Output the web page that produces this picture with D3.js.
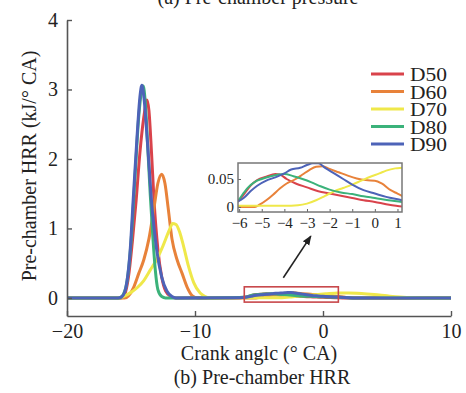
<!DOCTYPE html>
<html>
<head>
<meta charset="utf-8">
<script src="https://cdn.jsdelivr.net/npm/d3@7/dist/d3.min.js"></script>
<style>
  html, body { margin: 0; padding: 0; background: #fff; }
  svg { display: block; }
  text { font-family: "Liberation Serif", "Times New Roman", serif; fill: #222; }
</style>
</head>
<body>
<svg id="chart" width="466" height="393"></svg>
<script>
// Series labels and line colours
const seriesNames = ["D50", "D60", "D70", "D80", "D90"];
const seriesColors = ["#d9434b", "#e8823a", "#efe84a", "#3bb27a", "#4d63b8"];

// Crank angle (deg CA) and pre-chamber heat release rate (kJ/deg CA) per case
const d50Angle = [-20, -15.8, -15.5, -15.2, -14.9, -14.6, -14.3, -14.0, -13.75, -13.6, -13.4, -13.2, -12.9, -12.6, -12.3, -11.9, -11.5, -7, -6.05, -5.8, -5.5, -5.2, -4.8, -4.4, -4.2, -3.9, -3.5, -3.0, -2.5, -2.0, -1.5, -1.0, -0.5, 0, 0.5, 1.2, 2, 10];
const d50HRR   = [0, 0, 0.05, 0.3, 0.8, 1.4, 2.1, 2.6, 2.85, 2.7, 2.1, 1.4, 0.7, 0.3, 0.1, 0.02, 0, 0.002, 0.010, 0.022, 0.038, 0.048, 0.054, 0.059, 0.058, 0.050, 0.042, 0.035, 0.028, 0.024, 0.020, 0.016, 0.012, 0.009, 0.005, 0.001, 0, 0];

const d60Angle = [-20, -15.5, -15.2, -14.8, -14.4, -14.0, -13.6, -13.2, -12.9, -12.6, -12.35, -12.1, -11.8, -11.4, -11.0, -10.6, -10.2, -9.8, -6.05, -5.3, -5.1, -4.8, -4.5, -4.2, -3.9, -3.5, -3.2, -2.9, -2.6, -2.3, -2.0, -1.6, -1.2, -0.8, -0.4, 0, 0.3, 0.7, 1.0, 1.2, 1.8, 2.5, 10];
const d60HRR   = [0, 0, 0.03, 0.15, 0.35, 0.55, 0.85, 1.3, 1.65, 1.78, 1.65, 1.3, 0.85, 0.55, 0.35, 0.15, 0.03, 0, 0, 0, 0.004, 0.012, 0.022, 0.033, 0.042, 0.050, 0.058, 0.066, 0.072, 0.073, 0.068, 0.062, 0.056, 0.051, 0.048, 0.047, 0.042, 0.030, 0.024, 0.020, 0.008, 0, 0];

const d70Angle = [-20, -16, -15.6, -15.0, -14.5, -14.0, -13.5, -13.0, -12.5, -12.0, -11.75, -11.5, -11.2, -10.9, -10.5, -10.1, -9.6, -9.2, -8.8, -6.05, -5, -4, -3.4, -3.0, -2.6, -2.2, -1.8, -1.4, -1.0, -0.6, -0.2, 0.2, 0.5, 0.9, 1.2, 2, 3, 4, 5, 6, 7, 8, 10];
const d70HRR   = [0, 0, 0.02, 0.08, 0.15, 0.25, 0.4, 0.55, 0.75, 0.98, 1.07, 1.06, 0.95, 0.75, 0.45, 0.22, 0.07, 0.02, 0, 0.002, 0.002, 0.002, 0.003, 0.006, 0.012, 0.020, 0.028, 0.034, 0.040, 0.047, 0.054, 0.060, 0.065, 0.069, 0.070, 0.072, 0.065, 0.050, 0.030, 0.012, 0.002, 0, 0];

const d80Angle = [-20, -15.9, -15.6, -15.3, -15.0, -14.7, -14.4, -14.15, -14.05, -13.9, -13.7, -13.5, -13.3, -13.1, -12.9, -12.6, -12.3, -7, -6.05, -5.8, -5.6, -5.3, -5.0, -4.6, -4.0, -3.6, -3.2, -2.8, -2.4, -2.0, -1.5, -1.0, -0.5, 0, 0.6, 1.2, 2.2, 10];
const d80HRR   = [0, 0, 0.05, 0.25, 0.8, 1.7, 2.6, 3.0, 3.05, 2.85, 2.2, 1.5, 0.9, 0.4, 0.12, 0.02, 0, 0.002, 0.012, 0.025, 0.035, 0.045, 0.050, 0.055, 0.059, 0.055, 0.050, 0.044, 0.037, 0.031, 0.026, 0.023, 0.019, 0.016, 0.012, 0.009, 0, 0];

const d90Angle = [-20, -16, -15.7, -15.4, -15.1, -14.8, -14.5, -14.3, -14.15, -14.0, -13.7, -13.4, -13.0, -12.6, -12.2, -11.8, -11.5, -7, -6.05, -5.8, -5.5, -5.2, -4.8, -4.4, -4.0, -3.7, -3.3, -3.0, -2.75, -2.5, -2.2, -1.8, -1.4, -1.0, -0.5, 0, 0.5, 1.2, 2.3, 10];
const d90HRR   = [0, 0, 0.02, 0.15, 0.6, 1.5, 2.4, 2.9, 3.06, 2.9, 2.2, 1.4, 0.7, 0.3, 0.1, 0.02, 0, 0.002, 0.010, 0.016, 0.028, 0.038, 0.047, 0.053, 0.060, 0.067, 0.070, 0.075, 0.078, 0.078, 0.070, 0.060, 0.050, 0.040, 0.030, 0.024, 0.018, 0.012, 0, 0];

const angleSets = [d50Angle, d60Angle, d70Angle, d80Angle, d90Angle];
const hrrSets = [d50HRR, d60HRR, d70HRR, d80HRR, d90HRR];

// Axis ticks
const mainXTicks = [-20, -10, 0, 10];
const mainYTicks = [0, 1, 2, 3, 4];
const insetXTicks = [-6, -5, -4, -3, -2, -1, 0, 1];
const insetYTicks = [0, 0.05];

// Zoomed window on the main plot and the inset's range
const zoomAngle = [-6.15, 1.2];
const zoomHRR = [-0.06, 0.16];

const series = seriesNames.map((name, i) => ({
  name,
  color: seriesColors[i],
  points: angleSets[i].map((a, j) => ({ a, v: hrrSets[i][j] }))
}));

const svg = d3.select("#chart");
const fmtNum = d => (d < 0 ? "\u2212" + Math.abs(d) : String(d));

// ---------- main axes ----------
const x = d3.scaleLinear().domain([-20, 10]).range([67, 451]);
const y = d3.scaleLinear().domain([-0.26, 4]).range([316, 20]);

const line = d3.line().x(d => x(d.a)).y(d => y(d.v)).curve(d3.curveMonotoneX);

const mainG = svg.append("g");
series.forEach(s => {
  mainG.append("path")
    .datum(s.points)
    .attr("fill", "none")
    .attr("stroke", s.color)
    .attr("stroke-width", 3)
    .attr("stroke-linejoin", "round")
    .attr("d", line);
});

const axisColor = "#555";
const xAxis = svg.append("g")
  .attr("transform", `translate(0,${y(-0.26)})`)
  .call(d3.axisBottom(x).tickValues(mainXTicks).tickSizeInner(-5).tickSizeOuter(0).tickPadding(8).tickFormat(fmtNum));
const yAxis = svg.append("g")
  .attr("transform", `translate(${x(-20)},0)`)
  .call(d3.axisLeft(y).tickValues(mainYTicks).tickSizeInner(-5).tickSizeOuter(0).tickPadding(9).tickFormat(fmtNum));
[xAxis, yAxis].forEach(g => {
  g.select(".domain").attr("stroke", axisColor).attr("stroke-width", 1.6);
  g.selectAll(".tick line").attr("stroke", axisColor).attr("stroke-width", 1.4);
  g.selectAll(".tick text").attr("font-family", "Liberation Serif, serif").attr("font-size", 20).attr("fill", "#222");
});

// Axis titles and captions
svg.append("text").attr("x", 259).attr("y", 360).attr("text-anchor", "middle").attr("font-size", 20)
  .text("Crank anglc (\u00b0 CA)");
svg.append("text").attr("x", 262).attr("y", 384).attr("text-anchor", "middle").attr("font-size", 20)
  .text("(b) Pre-chamber HRR");
svg.append("text").attr("x", 258).attr("y", 4).attr("text-anchor", "middle").attr("font-size", 20)
  .text("(a) Pre-chamber pressure");
svg.append("text")
  .attr("transform", "translate(36,166) rotate(-90)")
  .attr("text-anchor", "middle").attr("font-size", 20)
  .text("Pre-chamber HRR (kJ/\u00b0 CA)");

// ---------- highlight box and arrow ----------
svg.append("rect")
  .attr("x", x(zoomAngle[0])).attr("y", y(zoomHRR[1]))
  .attr("width", x(zoomAngle[1]) - x(zoomAngle[0]))
  .attr("height", y(zoomHRR[0]) - y(zoomHRR[1]))
  .attr("fill", "none").attr("stroke", "#c8474a").attr("stroke-width", 1.6);

const defs = svg.append("defs");
defs.append("marker")
  .attr("id", "arrowHead").attr("viewBox", "0 0 10 10")
  .attr("refX", 9).attr("refY", 5)
  .attr("markerWidth", 6).attr("markerHeight", 6)
  .attr("orient", "auto")
  .append("path").attr("d", "M0,1 L10,5 L0,9 Z").attr("fill", "#222");
svg.append("line")
  .attr("x1", x(-3.1)).attr("y1", y(0.29))
  .attr("x2", x(-0.95)).attr("y2", y(0.89))
  .attr("stroke", "#222").attr("stroke-width", 1.6)
  .attr("marker-end", "url(#arrowHead)");

// ---------- legend ----------
const legend = svg.append("g").attr("transform", "translate(371,74)");
series.forEach((s, i) => {
  const g = legend.append("g").attr("transform", `translate(0,${i * 17.5})`);
  g.append("line").attr("x1", 0).attr("x2", 33).attr("y1", 0).attr("y2", 0)
    .attr("stroke", s.color).attr("stroke-width", 3);
  g.append("text").attr("x", 39).attr("y", 7).attr("font-size", 19).attr("textLength", 37)
    .attr("lengthAdjust", "spacingAndGlyphs").text(s.name);
});

// ---------- inset ----------
const ix = d3.scaleLinear().domain([-6.05, 1.2]).range([238, 402]);
const iy = d3.scaleLinear().domain([-0.009, 0.0786]).range([212, 163]);

defs.append("clipPath").attr("id", "insetClip")
  .append("rect").attr("x", 238).attr("y", 163).attr("width", 164).attr("height", 49);

svg.append("rect").attr("x", 238).attr("y", 163).attr("width", 164).attr("height", 49).attr("fill", "#fff");

const iline = d3.line().x(d => ix(d.a)).y(d => iy(d.v)).curve(d3.curveMonotoneX);
const insetLines = svg.append("g").attr("clip-path", "url(#insetClip)");
series.forEach(s => {
  insetLines.append("path")
    .datum(s.points)
    .attr("fill", "none")
    .attr("stroke", s.color)
    .attr("stroke-width", 2)
    .attr("d", iline);
});

const ixAxis = svg.append("g").attr("transform", "translate(0,212)")
  .call(d3.axisBottom(ix).tickValues(insetXTicks).tickSizeInner(-3).tickSizeOuter(0).tickPadding(5).tickFormat(fmtNum));
const iyAxis = svg.append("g").attr("transform", "translate(238,0)")
  .call(d3.axisLeft(iy).tickValues(insetYTicks).tickSizeInner(-3).tickSizeOuter(0).tickPadding(4).tickFormat(fmtNum));
[ixAxis, iyAxis].forEach(g => {
  g.select(".domain").remove();
  g.selectAll(".tick line").attr("stroke", "#666").attr("stroke-width", 1);
  g.selectAll(".tick text").attr("font-family", "Liberation Serif, serif").attr("font-size", 15).attr("fill", "#222");
});
svg.append("rect").attr("x", 238).attr("y", 163).attr("width", 164).attr("height", 49)
  .attr("fill", "none").attr("stroke", "#777").attr("stroke-width", 1.5);
</script>
</body>
</html>
